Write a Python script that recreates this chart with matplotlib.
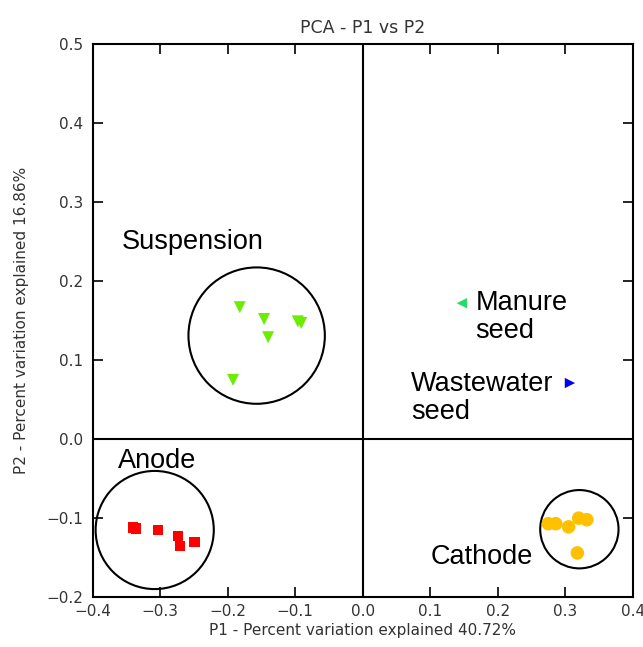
import numpy as np
import matplotlib
matplotlib.use('Agg')
import matplotlib.pyplot as plt
from matplotlib.patches import Ellipse

# PCA scores
suspension_x = [-0.182, -0.146, -0.140, -0.096, -0.091, -0.192]
suspension_y = [0.167, 0.152, 0.129, 0.149, 0.147, 0.075]
anode_x = [-0.340, -0.336, -0.303, -0.273, -0.271, -0.249]
anode_y = [-0.112, -0.113, -0.115, -0.123, -0.135, -0.130]
cathode_x = [0.275, 0.286, 0.305, 0.320, 0.332, 0.318]
cathode_y = [-0.107, -0.107, -0.111, -0.100, -0.102, -0.144]
manure_x, manure_y = [0.147], [0.172]
wastewater_x, wastewater_y = [0.307], [0.071]

# group circles: centre x, centre y, radius (in x units)
groups = [(-0.157, 0.131, 0.101), (-0.308, -0.115, 0.0875), (0.321, -0.114, 0.058)]

xticks = [-0.4, -0.3, -0.2, -0.1, 0.0, 0.1, 0.2, 0.3, 0.4]
yticks = [-0.2, -0.1, 0.0, 0.1, 0.2, 0.3, 0.4, 0.5]

fig = plt.figure(figsize=(6.43, 6.47), dpi=100)
ax = fig.add_axes([0.144, 0.077, 0.840, 0.855])

ax.scatter(suspension_x, suspension_y, marker='v', s=75, color='#6ced00', edgecolors='none', zorder=3)
ax.scatter(anode_x, anode_y, marker='s', s=55, color='#ff0000', edgecolors='none', zorder=3)
ax.scatter(cathode_x, cathode_y, marker='o', s=95, color='#ffc000', edgecolors='none', zorder=3)
ax.scatter(manure_x, manure_y, marker='<', s=55, color='#22dd66', edgecolors='none', zorder=3)
ax.scatter(wastewater_x, wastewater_y, marker='>', s=55, color='#0000ee', edgecolors='none', zorder=3)

# circles drawn as ellipses so they look round on screen
xr, yr = 0.8, 0.7
bbox = ax.get_position()
aspect = (yr / (bbox.height * 6.47)) / (xr / (bbox.width * 6.43))
for cx, cy, r in groups:
    ax.add_patch(Ellipse((cx, cy), 2 * r, 2 * r * aspect, fill=False, ec='black', lw=1.5, zorder=2))

ax.axhline(0, color='black', lw=1.5, zorder=1)
ax.axvline(0, color='black', lw=1.5, zorder=1)

lab = dict(family='Liberation Sans', fontsize=19.5, va='center', ha='left')
ax.text(-0.357, 0.250, 'Suspension', **lab)
ax.text(-0.363, -0.028, 'Anode', **lab)
ax.text(0.101, -0.149, 'Cathode', **lab)
ax.text(0.167, 0.154, 'Manure\nseed', linespacing=1.1, **lab)
ax.text(0.072, 0.052, 'Wastewater\nseed', linespacing=1.1, **lab)

ax.set_xlim(-0.4, 0.4)
ax.set_ylim(-0.2, 0.5)
ax.set_xticks(xticks)
ax.set_yticks(yticks)
ax.set_xticklabels([f'{t:.1f}'.replace('-', '\u2212') for t in xticks])
ax.set_yticklabels([f'{t:.1f}'.replace('-', '\u2212') for t in yticks])
ax.tick_params(direction='in', length=7, width=1.2, top=True, right=True, labelsize=11, colors='#333333')
ax.tick_params(axis='both', which='both', color='black')
ax.tick_params(axis='y', pad=7)
ax.tick_params(axis='x', pad=5)
for s in ax.spines.values():
    s.set_linewidth(1.5)

ax.set_title('PCA - P1 vs P2', fontsize=12.5, color='#333333', pad=8)
ax.set_xlabel('P1 - Percent variation explained 40.72%', fontsize=11, color='#333333', labelpad=3)
ax.set_ylabel('P2 - Percent variation explained 16.86%', fontsize=11, color='#333333', labelpad=12)

fig.savefig('out.png', dpi=100)
